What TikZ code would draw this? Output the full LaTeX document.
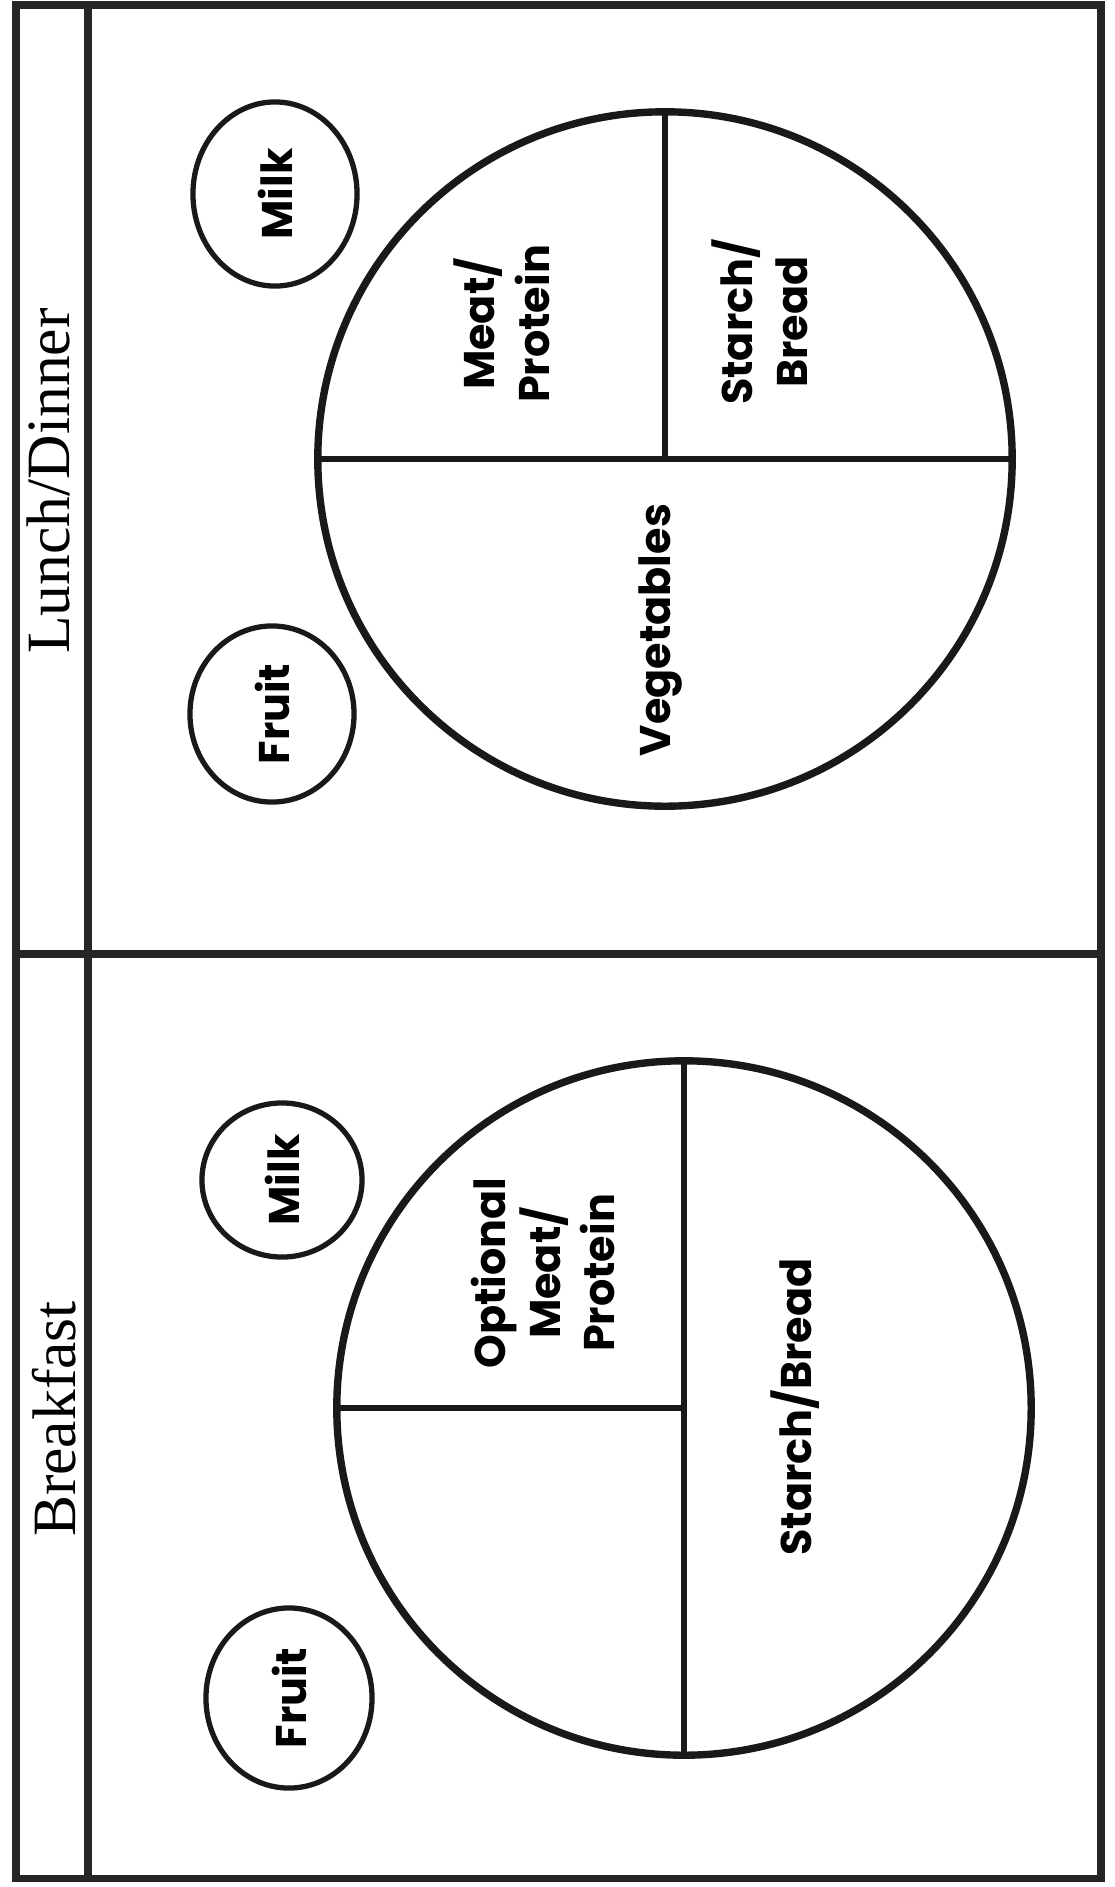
\documentclass[tikz,border=0pt]{standalone}
\usepackage{fontspec}
\usepackage{tikz}
\usetikzlibrary{positioning,shapes.geometric}
\newfontfamily\platefont{Poppins}
\newfontfamily\mealfont{Liberation Serif}
\tikzset{
  frame/.style={draw=black!85, line width=2pt},
  plate/.style={circle, draw=black!90, line width=2.1pt, minimum size=6.94cm,
                inner sep=0pt},
  side/.style={ellipse, draw=black!90, line width=1.5pt, inner sep=0pt, rotate=90,
               font=\platefont\bfseries\fontsize{12.2}{15.5}\selectfont},
  split/.style={draw=black!90, line width=1.6pt},
  food/.style={rotate=90, align=center,
               font=\platefont\bfseries\fontsize{12.2}{15.5}\selectfont},
  meal/.style={rotate=90, font=\mealfont\fontsize{17.5}{20}\selectfont},
}

\begin{document}
\begin{tikzpicture}[x=0.01cm, y=-0.01cm]
  \useasboundingbox (0,0) rectangle (1115,1887);

  % --- outer frame, title column, meal divider ---
  \coordinate (tl) at (16,5);
  \coordinate (br) at (1101,1878);
  \coordinate (ht) at (88,5);
  \coordinate (hb) at (88,1878);
  \coordinate (dl) at (16,954);
  \coordinate (dr) at (1101,954);
  \draw[frame] (tl) rectangle (br);
  \draw[frame] (ht) -- (hb);
  \draw[frame] (dl) -- (dr);

  % --- lunch/dinner ---
  \node[meal] (lunch) at (48,481) {Lunch/Dinner};
  \node[plate] (lplate) at (665,459) {};
  \draw[split] (lplate.west) -- (lplate.east);
  \draw[split] (lplate.north) -- (lplate.center);
  \node[side, minimum width=1.84cm, minimum height=1.64cm] (lmilk) at (275,194) {Milk};
  \node[side, minimum width=1.76cm, minimum height=1.64cm] (lfruit) at (272,714) {Fruit};
  \node[food] (lmeat) at (502,324) {Meat/\\Protein};
  \node[food] (lstarch) at (760,322) {Starch/\\Bread};
  \node[food] (lveg) at (661,630) {Vegetables};

  % --- breakfast ---
  \node[meal] (breakfast) at (54,1419) {Breakfast};
  \node[plate] (bplate) at (684,1408) {};
  \draw[split] (bplate.north) -- (bplate.south);
  \draw[split] (bplate.west) -- (bplate.center);
  \node[side, minimum width=1.54cm, minimum height=1.60cm] (bmilk) at (282,1180) {Milk};
  \node[side, minimum width=1.80cm, minimum height=1.66cm] (bfruit) at (289,1698) {Fruit};
  \node[food] (bmeat) at (543,1273) {Optional\\Meat/\\Protein};
  \node[food] (bstarch) at (795,1407) {Starch/Bread};
\end{tikzpicture}
\end{document}
